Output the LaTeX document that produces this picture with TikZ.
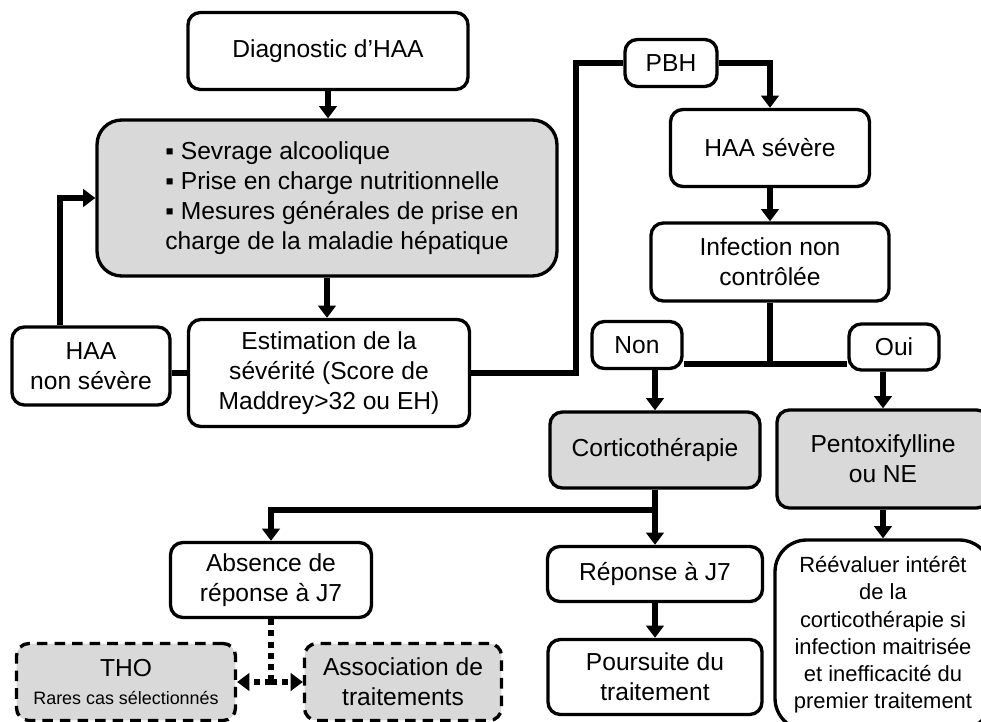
\documentclass[tikz,border=0pt]{standalone}
\usepackage{fontspec}
\setmainfont{Liberation Sans}
\usepackage{tikz}
\usetikzlibrary{arrows.meta,positioning,calc}

\begin{document}
\begin{tikzpicture}[
    x=0.02cm, y=-0.02cm,
    font=\fontsize{14}{17}\selectfont,
    box/.style={draw, line width=1.9pt, rounded corners=7pt, align=center, inner sep=2pt},
    greybox/.style={box, fill=black!15},
    dashbox/.style={greybox, dash pattern=on 6pt off 4pt},
    link/.style={line width=3.4pt},
    arrow/.style={link, -{Triangle[length=7pt, width=10pt]}},
    dotlink/.style={line width=3.4pt, dash pattern=on 3.4pt off 3pt},
    dotarrow/.style={dotlink, -{Triangle[length=7pt, width=10pt]}}
]
\useasboundingbox (0,0) rectangle (981,722);

% upper left column
\node[box, minimum width=5.6cm, minimum height=1.54cm] (diag) at (328,51) {Diagnostic d’HAA};
\node[greybox, rounded corners=14pt, align=left, minimum width=9.2cm, minimum height=3.12cm,
      font=\fontsize{14}{17}\selectfont] (mesures) at (327,198)
  {\hspace*{0.6cm}▪ Sevrage alcoolique\\\hspace*{0.6cm}▪ Prise en charge nutritionnelle\\
   \hspace*{0.6cm}▪ Mesures générales de prise en\\\hspace*{0.6cm}charge de la maladie hépatique};
\node[box, minimum width=5.62cm, minimum height=2.14cm] (estim) at (329,373)
  {Estimation de la\\sévérité (Score de\\Maddrey>32 ou EH)};
\node[box, minimum width=3.16cm, minimum height=1.56cm] (nonsev) at (91,366) {HAA\\non sévère};

% right column
\node[box, minimum width=1.84cm, minimum height=0.94cm] (pbh) at (671,63) {PBH};
\node[box, minimum width=3.98cm, minimum height=1.54cm] (sev) at (770,148) {HAA sévère};
\node[box, minimum width=4.76cm, minimum height=1.56cm] (infect) at (770,262) {Infection non\\contrôlée};
\node[box, minimum width=1.8cm, minimum height=0.94cm] (non) at (637,345) {Non};
\node[box, minimum width=1.8cm, minimum height=0.92cm] (oui) at (894,347) {Oui};
\node[greybox, minimum width=4.2cm, minimum height=1.52cm] (cortico) at (655,450) {Corticothérapie};
\node[greybox, minimum width=4.24cm, minimum height=1.96cm] (pento) at (883,459) {Pentoxifylline\\ou NE};
\node[box, minimum width=4.3cm, minimum height=1.1cm] (rep) at (655,574) {Réponse à J7};
\node[box, minimum width=4.28cm, minimum height=1.5cm] (pours) at (655,677) {Poursuite du\\traitement};
\node[box, rounded corners=18pt, minimum width=4.32cm, minimum height=3.8cm,
      font=\fontsize{12.5}{15.5}\selectfont] (reeval) at (883,635)
  {Réévaluer intérêt\\de la\\corticothérapie si\\infection maitrisée\\et inefficacité du\\premier traitement};

% lower left
\node[box, minimum width=4.02cm, minimum height=1.5cm] (absence) at (271,580) {Absence de\\réponse à J7};
\node[dashbox, minimum width=4.38cm, minimum height=1.54cm] (tho) at (126,682)
  {THO\\[-1pt]{\fontsize{10.2}{12}\selectfont Rares cas sélectionnés}};
\node[dashbox, minimum width=3.94cm, minimum height=1.54cm] (assoc) at (403,682) {Association de\\traitements};

\coordinate (pbhturn) at (576,0);
\coordinate (split) at (770,364);
\coordinate (fork) at (655,510);
\coordinate (dotfork) at (271,682);

\draw[arrow] (diag.south) -- (diag.south |- mesures.north);
\draw[arrow] (mesures.south) -- (mesures.south |- estim.north);
\draw[link] (estim.west) -- (estim.west -| nonsev.east);
\draw[arrow] ([xshift=-0.62cm]nonsev.north) |- (mesures.west);
\draw[link] (estim.east) -- (estim.east -| pbhturn) |- (pbh.west);
\draw[arrow] (pbh.east) -| (sev.north);
\draw[arrow] (sev) -- (infect);
\draw[link] (infect.south) -- (split);
\draw[link] (split -| non.east) -- (split -| oui.west);
\draw[arrow] (non.south -| cortico.north) -- (cortico.north);
\draw[arrow] (oui.south -| pento.north) -- (pento.north);
\draw[arrow] (cortico) -- (rep);
\draw[arrow] (fork) -| (absence.north);
\draw[arrow] (rep) -- (pours);
\draw[arrow] (pento) -- (reeval);
\draw[dotlink] (absence.south) -- (dotfork);
\draw[dotarrow] (dotfork) -- (tho.east);
\draw[dotarrow] (dotfork) -- (assoc.west);
\end{tikzpicture}
\end{document}
